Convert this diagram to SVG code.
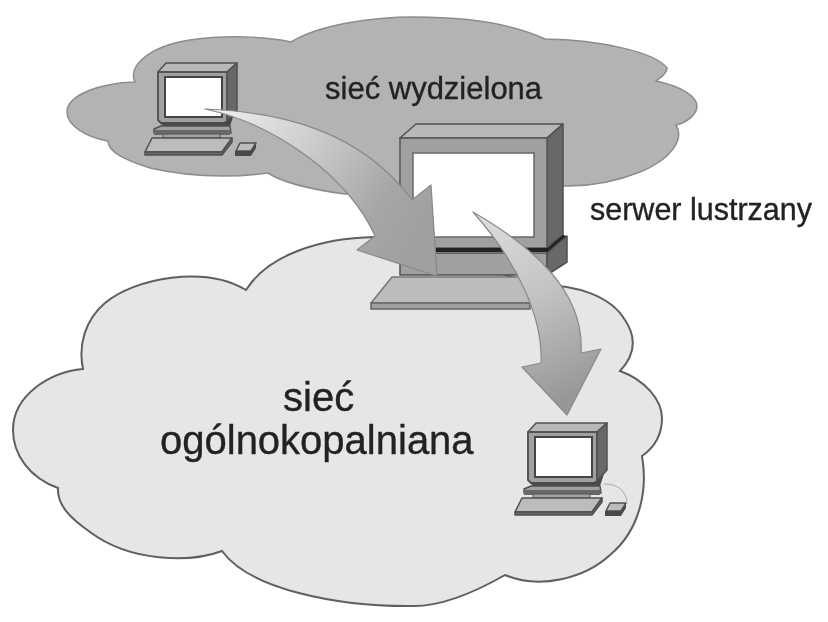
<svg xmlns="http://www.w3.org/2000/svg" xmlns:xlink="http://www.w3.org/1999/xlink" width="828" height="622" viewBox="0 0 828 622">
<style>
text{font-family:"Liberation Sans",Arial,sans-serif;fill:#222;stroke:#222;stroke-width:.35}
.ln{stroke:#505050;stroke-width:1.5;stroke-linejoin:round}
.f{fill:#a0a0a0}.t{fill:#b8b8b8}.s{fill:#686868}.d{fill:#4a4a4a}.k{fill:#bcbcbc}.w{fill:#fff}
</style>
<defs>
<filter id="soft" x="-5%" y="-5%" width="110%" height="110%"><feGaussianBlur stdDeviation="0.55"/></filter>
<linearGradient id="g1" gradientUnits="userSpaceOnUse" x1="205" y1="109" x2="410" y2="250">
<stop offset="0" stop-color="#f2f2f2"/><stop offset=".4" stop-color="#cfcfcf"/><stop offset=".8" stop-color="#a6a6a6"/><stop offset="1" stop-color="#a0a0a0"/></linearGradient>
<linearGradient id="g2" gradientUnits="userSpaceOnUse" x1="480" y1="220" x2="565" y2="400">
<stop offset="0" stop-color="#dcdcdc"/><stop offset=".45" stop-color="#c4c4c4"/><stop offset="1" stop-color="#979797"/></linearGradient>
<g id="pc">
<path class="t ln" d="M0 9 L8 0 H79 L69 9Z"/>
<path class="s ln" d="M69 9 L79 0 V47 L69 58Z"/>
<path class="f" stroke="#555" stroke-width="2" stroke-linejoin="round" d="M0 9 H69 V58 L66 60 H3 L0 57Z"/>
<rect class="w" x="7" y="14" width="57" height="40" stroke="#444" stroke-width="2"/>
<path class="d" d="M1 59 H68 L76 51 L72 63 H5Z"/>
<path class="f ln" d="M3 63 H72 L73 70 H-4 V66Z"/>
<path class="s" d="M-4 67 H73 L72 72 H-4Z"/>
<rect class="f" x="5" y="71" width="57" height="4" stroke="#555"/>
<path class="k ln" d="M-6 75 H74 L64 89 H-13Z"/>
<path class="s ln" d="M-13 89 H64 L74 75 V79 L64 92 H-13Z"/>
<path class="k ln" d="M82 80 H98 L93 88 H78Z"/>
<path class="d" d="M77 88 H93 L98 81 V85 L93 93 H77Z"/>
</g>
</defs>
<rect width="828" height="622" fill="#fff"/>
<g filter="url(#soft)">
<g id="cloud-wydzielona">
<path fill="#b3b3b3" stroke="#8c8c8c" stroke-width="1.5" d="M135 82 C127 66 150 46 190 40 C225 35 265 36 291 42 C320 24 375 17 414 17 C470 17 515 25 545 39 C600 40 655 52 667 68 C667 74 660 78 656 81 C680 86 697 96 697 106 C697 114 688 122 676 125 C685 140 670 160 640 172 C615 182 590 187 560 186 L345 194 C315 190 285 184 268 173 C230 178 190 177 150 168 C125 160 108 152 108 141 C85 137 67 125 67 112 C67 95 100 83 135 82Z"/>
</g>
<g id="cloud-ogolnokopalniana">
<path fill="#e6e6e6" stroke="#5f5f5f" stroke-width="2" d="M83 369 C78 345 85 320 105 303 C135 278 205 265 246 290 C268 255 320 238 375 237 L540 285 C575 285 610 295 625 320 C637 338 635 355 620 371 C645 380 662 400 662 418 C662 435 655 447 642 456 C648 490 640 530 610 555 C585 578 540 590 505 575 C470 595 440 606 414 606 C340 607 250 590 222 551 C190 563 130 562 90 532 C70 518 57 505 58 488 C30 478 13 455 13 430 C13 395 50 372 83 369Z"/>
</g>
<g id="server">
<path class="t ln" d="M400 138 L416 124 H563 L547 138Z"/>
<path class="s ln" d="M547 138 L563 124 V235 L547 247Z"/>
<rect class="f" x="400" y="138" width="147" height="110" stroke="#555" stroke-width="1.5"/>
<rect class="w" x="413" y="153" width="121" height="84" stroke="#666" stroke-width="1.5"/>
<path fill="#222" d="M400 248 H547 L563 235 L567 236 L549 252 H400Z"/>
<path class="f ln" d="M400 253 H547 V275 H400Z"/>
<path class="s ln" d="M547 253 L567 236 V262 L547 275Z"/>
<path class="k" stroke="#777" stroke-width="1.5" stroke-linejoin="round" d="M392 277 H545 L530 303 H371Z"/>
<path class="f" stroke="#666" stroke-width="1.5" d="M371 303 H530 V309 H371Z"/>
</g>
<use id="pc-wydzielona" xlink:href="#pc" href="#pc" x="158" y="63"/>
<g id="pc-ogolnokopalniana">
<use xlink:href="#pc" href="#pc" x="528" y="423"/>
<path d="M604 484 C615 484 625 488 627 502" fill="none" stroke="#aaa" stroke-width="1"/>
</g>
<g id="connectors">
<path fill="url(#g1)" stroke="#888" stroke-width="1.2" stroke-linejoin="round" d="M205 109 C280 112 360 130 412 200 L431 185 L437 276 L357 250 L375 236 C350 180 280 125 205 109Z"/>
<path fill="url(#g2)" stroke="#8a8a8a" stroke-width="1.2" stroke-linejoin="round" d="M473 212 C530 245 585 290 581 353 L601 349 L567 415 L522 367 L541 363 C543 320 520 265 473 212Z"/>
</g>
<g id="labels">
<text x="325" y="99" font-size="31">sieć wydzielona</text>
<text x="590" y="220" font-size="30.5">serwer lustrzany</text>
<text x="283" y="411" font-size="40">sieć</text>
<text x="160" y="454" font-size="40">ogólnokopalniana</text>
</g>
</g>
</svg>
